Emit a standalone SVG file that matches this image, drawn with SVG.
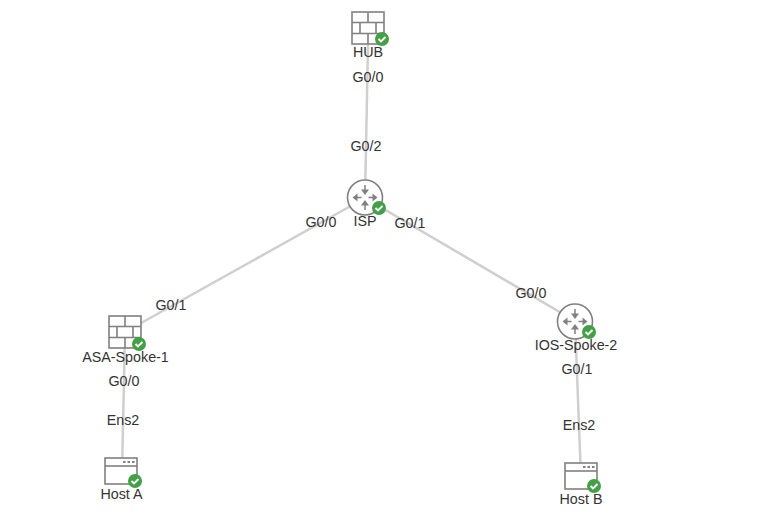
<svg xmlns="http://www.w3.org/2000/svg" width="761" height="528" viewBox="0 0 761 528">
<style>
.l{stroke:#cfcfcf;stroke-width:2.5;fill:none}
.t{font-family:"Liberation Sans",Arial,sans-serif;font-size:14.3px;fill:#333;text-anchor:middle}
.i{fill:#fff;stroke:#808080;stroke-width:1.6}
.i2{fill:none;stroke:#808080;stroke-width:1.6}
.a{fill:none;stroke:#808080;stroke-width:1.5}
.h{fill:#808080}
.ok{fill:#43a047}
.c{fill:none;stroke:#fff;stroke-width:1.9}
</style>
<defs>
<g id="fw"><rect class="i" x="0" y="0" width="32" height="32"/><path class="i2" d="M0 10.500H32M0 21.500H32M16 0V10.500M8 10.500V21.500M24 10.500V21.500M16 21.500V32"/></g>
<g id="rt"><circle class="i" cx="17.500" cy="17.500" r="17.500"/><path class="a" d="M17.500 5V10M17.500 30V25M14 17.500H8M21 17.500H27"/><path class="h" d="M13.500 9.500H21.500L17.500 15ZM13.500 25.500H21.500L17.500 20ZM10 13.500V21.500L5 17.500ZM25 13.500V21.500L30 17.500Z"/></g>
<g id="hs"><rect class="i" x="0" y="0" width="32" height="26"/><path class="i2" d="M0 8H32"/><path d="M18 4H20.500M22.500 4H25M27 4H29.500" stroke="#808080" stroke-width="2"/></g>
<g id="ck"><circle class="ok" r="7"/><path class="c" d="M-3.500 0L-1 2.500L3.500-2"/></g>
</defs>
<g id="connectors">
<path class="l" d="M368 45L365 198"/>
<path class="l" d="M365 198L125 332"/>
<path class="l" d="M365 198L575 321"/>
<path class="l" d="M125 332L122 473"/>
<path class="l" d="M575 321L581 478"/>
</g>
<g id="node-hub"><use href="#fw" x="352" y="12"/><use href="#ck" x="382" y="39"/><text class="t" x="368" y="57">HUB</text></g>
<g id="node-isp"><use href="#rt" x="347.500" y="180"/><use href="#ck" x="379" y="208"/><text class="t" x="365" y="226">ISP</text></g>
<g id="node-asa"><use href="#fw" x="109" y="316"/><use href="#ck" x="139" y="344"/><text class="t" x="125.500" y="362">ASA-Spoke-1</text></g>
<g id="node-ios"><use href="#rt" x="557.500" y="304"/><use href="#ck" x="589" y="332"/><text class="t" x="576" y="350">IOS-Spoke-2</text></g>
<g id="node-hosta"><use href="#hs" x="105" y="458"/><use href="#ck" x="135" y="481"/><text class="t" x="121.500" y="499">Host A</text></g>
<g id="node-hostb"><use href="#hs" x="565" y="463"/><use href="#ck" x="594" y="486"/><text class="t" x="581" y="504">Host B</text></g>
<g id="labels">
<text class="t" x="368" y="82">G0/0</text>
<text class="t" x="366" y="151">G0/2</text>
<text class="t" x="321" y="227">G0/0</text>
<text class="t" x="410" y="228">G0/1</text>
<text class="t" x="171" y="310">G0/1</text>
<text class="t" x="531" y="298">G0/0</text>
<text class="t" x="124" y="386">G0/0</text>
<text class="t" x="577" y="374">G0/1</text>
<text class="t" x="123" y="425">Ens2</text>
<text class="t" x="579" y="430">Ens2</text>
</g>
</svg>
